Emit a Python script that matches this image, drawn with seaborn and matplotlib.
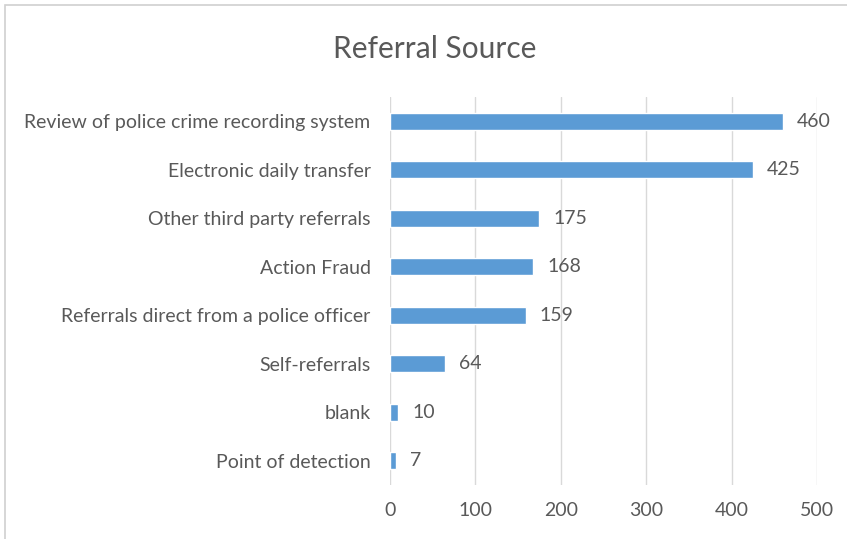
import matplotlib
matplotlib.use("Agg")
import matplotlib.pyplot as plt
import seaborn as sns
import pandas as pd
from matplotlib.patches import Rectangle

categories = [
    "Review of police crime recording system",
    "Electronic daily transfer",
    "Other third party referrals",
    "Action Fraud",
    "Referrals direct from a police officer",
    "Self-referrals",
    "blank",
    "Point of detection",
]
counts = [460, 425, 175, 168, 159, 64, 10, 7]
x_ticks = [0, 100, 200, 300, 400, 500]

df = pd.DataFrame({"source": categories, "count": counts})

sns.set_theme(style="white")
plt.rcParams["font.family"] = ["Lato", "DejaVu Sans"]

text_grey = "#595959"
bar_blue = "#5B9BD5"

fig = plt.figure(figsize=(8.47, 5.39), dpi=100)
ax = fig.add_axes([0.4604, 0.1002, 0.5042, 0.7198])

sns.barplot(data=df, x="count", y="source", color=bar_blue, width=0.35,
            saturation=1, ax=ax, zorder=3)

ax.set_xlim(0, 500)
ax.set_xticks(x_ticks)
ax.set_xticklabels([str(t) for t in x_ticks])
ax.grid(axis="x", color="#D9D9D9", linewidth=1, zorder=0)
ax.grid(axis="y", visible=False)
for s in ax.spines.values():
    s.set_visible(False)
ax.set_xlabel("")
ax.set_ylabel("")
ax.tick_params(axis="both", length=0, labelsize=14, labelcolor=text_grey)
ax.tick_params(axis="y", pad=14)
ax.tick_params(axis="x", pad=12)

for cont in ax.containers:
    ax.bar_label(cont, labels=[str(v) for v in counts], padding=10,
                 fontsize=14, color=text_grey)

fig.text(0.5135, 0.91, "Referral Source", ha="center", va="center",
         fontsize=21.5, color=text_grey)

# light outline around the chart area
fig.patches.append(Rectangle((0.006, -0.05), 1.5, 1.04, transform=fig.transFigure,
                             fill=False, edgecolor="#D0D0D0", linewidth=1.2))

fig.savefig("out.png", dpi=100)
